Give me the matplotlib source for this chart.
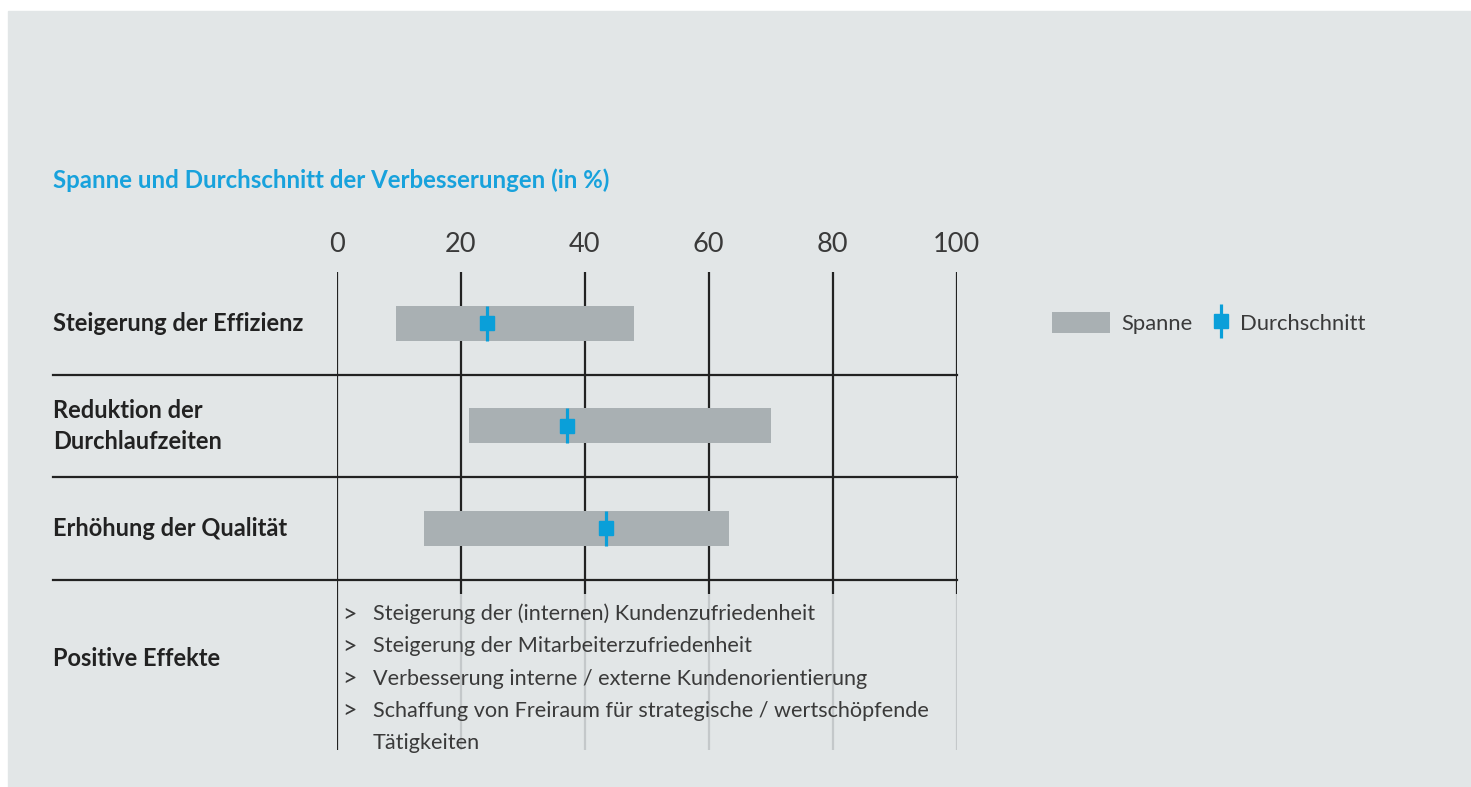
import matplotlib
matplotlib.use('Agg')
import matplotlib.pyplot as plt
import matplotlib.transforms as mtransforms
from matplotlib.patches import Rectangle, Patch
from matplotlib.lines import Line2D

plt.rcParams['font.family'] = ['Lato', 'DejaVu Sans']

# data
title = 'Spanne und Durchschnitt der Verbesserungen (in %)'
categories = ['Steigerung der Effizienz', 'Reduktion der\nDurchlaufzeiten', 'Erhöhung der Qualität']
span_low = [9.5, 21.3, 14.1]
span_high = [47.9, 70.0, 63.3]
mean_vals = [24.3, 37.1, 43.4]
x_ticks = [0, 20, 40, 60, 80, 100]
effects_title = 'Positive Effekte'
effects = ['Steigerung der (internen) Kundenzufriedenheit',
           'Steigerung der Mitarbeiterzufriedenheit',
           'Verbesserung interne / externe Kundenorientierung',
           'Schaffung von Freiraum für strategische / wertschöpfende\nTätigkeiten']

BLUE = '#0a9fd9'
TITLE_BLUE = '#18a2dc'
BAR_GREY = '#a9b0b3'
BG = '#e2e6e7'
DARK = '#222222'
TEXT = '#3a3a3a'
LIGHT_LINE = '#c4c8ca'

W, H = 1471, 787
fig = plt.figure(figsize=(W / 100, H / 100), dpi=100, facecolor='white')
fig.patches.append(Rectangle((8 / W, 0), 1 - 8 / W, 1 - 11 / H, transform=fig.transFigure,
                             color=BG, zorder=-5))

# axes placed in pixel layout: x 0..100, rows with fixed pixel pitch
ax_left, ax_right, ax_top, ax_bot = 336.75, 956.6, 272, 751
row_px = 102.5
ax = fig.add_axes([ax_left / W, 1 - ax_bot / H, (ax_right - ax_left) / W, (ax_bot - ax_top) / H])
ax.set_zorder(2)
ax.set_facecolor('none')
ax.set_xlim(0, 100)
ax.set_ylim(-0.5 + (ax_bot - ax_top) / row_px, -0.5)
for s in ax.spines.values():
    s.set_visible(False)
ax.set_yticks([])
ax.set_xticks(x_ticks)
ax.xaxis.tick_top()
ax.tick_params(axis='x', length=0, pad=11, labelsize=19.5, colors=TEXT)

n = len(categories)
rows = list(range(n))
px_per_unit = (ax_right - ax_left) / 100
label_x = 53
x_left_data = (label_x - ax_left) / px_per_unit

# vertical guide lines
dark_end = n - 0.5 + 14 / row_px
bottom_end = -0.5 + (750 - ax_top) / row_px
ax.vlines(x_ticks[0], -0.5, bottom_end, color=DARK, lw=1.6, zorder=1)
ax.vlines(x_ticks[1:], -0.5, dark_end, color=DARK, lw=1.6, zorder=1)
ax.vlines(x_ticks[1:], dark_end, bottom_end, color=LIGHT_LINE, lw=1.6, zorder=1)

# row separators
for i in rows:
    ax.plot([x_left_data, 100], [i + 0.5, i + 0.5], color=DARK, lw=1.6, clip_on=False, zorder=1)

# range bars and means
bar_h = 35 / row_px
widths = [h - l for l, h in zip(span_low, span_high)]
ax.barh(rows, widths, left=span_low, height=bar_h, color=BAR_GREY, zorder=2)
ax.vlines(mean_vals, [r - bar_h / 2 for r in rows], [r + bar_h / 2 for r in rows],
          color=BLUE, lw=2.3, zorder=3)
ax.plot(mean_vals, rows, linestyle='none', marker='s', markersize=10, color=BLUE, zorder=4)

# labels
trans = mtransforms.blended_transform_factory(fig.transFigure, ax.transData)
for i, cat in enumerate(categories):
    fig.text(label_x / W, i, cat, transform=trans, ha='left', va='center', fontsize=17,
             fontweight='bold', color=DARK, linespacing=1.42)
fig.text(label_x / W, -0.5 + (658 - ax_top) / row_px, effects_title, transform=trans,
         ha='left', va='center', fontsize=17, fontweight='bold', color=DARK)

fig.text(label_x / W, 1 - 180 / H, title, ha='left', va='center', fontsize=17.3,
         fontweight='bold', color=TITLE_BLUE)

# effects list
line_step = 32.3 / row_px
y0 = -0.5 + (614 - ax_top) / row_px
k = 0
for item in effects:
    for j, part in enumerate(item.split('\n')):
        y = y0 + k * line_step
        if j == 0:
            ax.text(x_left_data + (342 - label_x) / px_per_unit, y, '>', ha='left', va='center',
                    fontsize=18, color=TEXT, clip_on=False)
        ax.text(x_left_data + (373 - label_x) / px_per_unit, y, part, ha='left', va='center',
                fontsize=15.6, color=TEXT, clip_on=False)
        k += 1

# legend
fs = 15.8
fs_px = fs * 100 / 72
leg1 = fig.legend([Patch(facecolor=BAR_GREY, edgecolor='none')], ['Spanne'],
                  loc='center left', bbox_to_anchor=(1052 / W, 1 - 323 / H), frameon=False,
                  fontsize=fs, borderpad=0, borderaxespad=0,
                  handlelength=58 / fs_px, handleheight=23 / fs_px, handletextpad=11 / fs_px)
mean_handle = (Line2D([], [], color=BLUE, marker='|', markersize=24, mew=2.3, linestyle='none'),
               Line2D([], [], color=BLUE, marker='s', markersize=10, linestyle='none'))
leg2 = fig.legend([mean_handle], ['Durchschnitt'], loc='center left',
                  bbox_to_anchor=((1221 - fs_px / 2) / W, 1 - 323 / H), frameon=False,
                  fontsize=fs, borderpad=0, borderaxespad=0, numpoints=1,
                  handlelength=1.0, handleheight=23 / fs_px, handletextpad=(1240 - 1221 - fs_px / 2) / fs_px)
for leg in (leg1, leg2):
    for t in leg.get_texts():
        t.set_color(TEXT)

fig.savefig('out.png', dpi=100, facecolor=fig.get_facecolor())
